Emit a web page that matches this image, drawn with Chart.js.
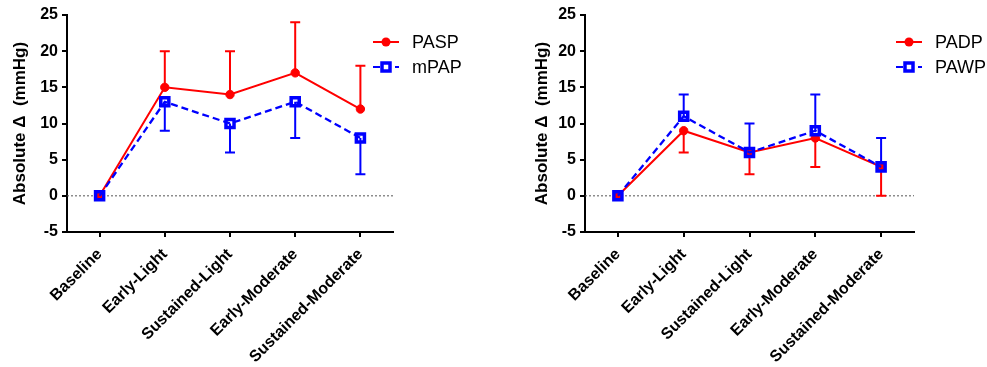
<!DOCTYPE html>
<html>
<head>
<meta charset="utf-8">
<script src="https://cdn.jsdelivr.net/npm/chart.js@4.4.0/dist/chart.umd.min.js"></script>
<style>
    body { margin: 0; background: #fff; }
    .wrap { display: flex; width: 987px; height: 367px; }
    .box { position: relative; height: 367px; }
</style>
</head>
<body>
<div class="wrap">
    <div class="box" style="width:493px"><canvas id="left-chart"></canvas></div>
    <div class="box" style="width:494px"><canvas id="right-chart"></canvas></div>
</div>
<script>
// Datos
const categories = ['Baseline', 'Early-Light', 'Sustained-Light', 'Early-Moderate', 'Sustained-Moderate'];
const yTicks = [-5, 0, 5, 10, 15, 20, 25];

// left panel
const pasp = [0, 15, 14, 17, 12];
const paspErr = [0, 5, 6, 7, 6];      // drawn upwards
const mpap = [0, 13, 10, 13, 8];
const mpapErr = [0, 4, 4, 5, 5];      // drawn downwards

// right panel
const padp = [0, 9, 6, 8, 4];
const padpErr = [0, 3, 3, 4, 4];      // downwards
const pawp = [0, 11, 6, 9, 4];
const pawpErr = [0, 3, 4, 5, 4];      // upwards

const RED = '#ff0000';
const BLUE = '#0000ff';

Chart.defaults.font.family = '"Liberation Sans", Arial, sans-serif';
Chart.defaults.color = '#000';

// Plugins
const zeroLine = {
    id: 'zeroLine',
    beforeDatasetsDraw(chart) {
        const { ctx, chartArea } = chart;
        const y0 = chart.scales.y.getPixelForValue(0);
        ctx.save();
        ctx.strokeStyle = '#555';
        ctx.lineWidth = 1;
        ctx.setLineDash([2, 2]);
        ctx.beginPath();
        ctx.moveTo(chartArea.left, y0);
        ctx.lineTo(chartArea.right, y0);
        ctx.stroke();
        ctx.restore();
    }
};

const errorBars = {
    id: 'errorBars',
    beforeDatasetsDraw(chart) {
        const ctx = chart.ctx;
        const yScale = chart.scales.y;
        chart.data.datasets.forEach((ds, i) => {
            const meta = chart.getDatasetMeta(i);
            ctx.save();
            ctx.strokeStyle = ds.borderColor;
            ctx.lineWidth = 2;
            meta.data.forEach((pt, j) => {
                const e = ds.errors[j];
                if (!e) return;
                const end = yScale.getPixelForValue(ds.data[j] + ds.errDir * e);
                ctx.beginPath();
                ctx.moveTo(pt.x, pt.y);
                ctx.lineTo(pt.x, end);
                ctx.moveTo(pt.x - 5, end);
                ctx.lineTo(pt.x + 5, end);
                ctx.stroke();
            });
            ctx.restore();
        });
    }
};

const lineLegend = {
    id: 'lineLegend',
    afterDraw(chart, args, opts) {
        const ctx = chart.ctx;
        // legend follows dataset index order (red first)
        chart.data.datasets.forEach((ds, i) => {
            const y = opts.y + i * 25;
            const x = opts.x;
            ctx.save();
            ctx.strokeStyle = ds.borderColor;
            ctx.lineWidth = 2;
            ctx.setLineDash(ds.borderDash || []);
            ctx.beginPath();
            ctx.moveTo(x, y);
            ctx.lineTo(x + 26, y);
            ctx.stroke();
            ctx.setLineDash([]);
            const cx = x + 13;
            if (ds.pointStyle === 'circle') {
                ctx.fillStyle = ds.borderColor;
                ctx.beginPath();
                ctx.arc(cx, y, 4.5, 0, Math.PI * 2);
                ctx.fill();
            } else {
                ctx.fillStyle = '#fff';
                ctx.fillRect(cx - 4, y - 4, 8, 8);
                ctx.lineWidth = 3.5;
                ctx.strokeRect(cx - 4, y - 4, 8, 8);
            }
            ctx.fillStyle = '#000';
            ctx.font = '18px "Liberation Sans", Arial, sans-serif';
            ctx.textBaseline = 'middle';
            ctx.fillText(ds.label, x + 39, y + 1);
            ctx.restore();
        });
    }
};

const makeDataset = (label, data, errors, errDir, solid) => ({
    label,
    data,
    errors,
    errDir,
    borderColor: solid ? RED : BLUE,
    backgroundColor: solid ? RED : 'rgba(0,0,0,0)',
    borderWidth: solid ? 2 : 2.3,
    borderDash: solid ? [] : [7, 4],
    pointStyle: solid ? 'circle' : 'rect',
    pointRadius: solid ? 4.2 : 5.7,
    pointBorderWidth: solid ? 1 : 3.5,
    pointBorderColor: solid ? RED : BLUE,
    pointBackgroundColor: solid ? RED : 'rgba(0,0,0,0)',
    tension: 0,
    order: solid ? 2 : 1
});

const makeChart = (canvasId, datasets, padLeft, yWidth, padRight, legendX) => {
    const ctx = document.getElementById(canvasId).getContext('2d');
    return new Chart(ctx, {
        type: 'line',
        data: { labels: categories, datasets },
        options: {
            responsive: true,
            maintainAspectRatio: false,
            animation: false,
            layout: { padding: { top: 15, left: padLeft, right: padRight, bottom: 0 } },
            plugins: {
                legend: { display: false },
                tooltip: { enabled: false },
                lineLegend: { x: legendX, y: 42 }
            },
            scales: {
                x: {
                    offset: true,
                    grid: { display: true, drawOnChartArea: false, drawTicks: true, tickLength: 5, color: '#000', lineWidth: 2 },
                    border: { display: true, color: '#000', width: 2 },
                    ticks: {
                        minRotation: 45, maxRotation: 45,
                        font: { size: 16, weight: 'bold' },
                        padding: 8
                    },
                    afterFit: (scale) => { scale.height = 135; }
                },
                y: {
                    min: -5, max: 25,
                    afterBuildTicks: (scale) => { scale.ticks = yTicks.map(v => ({ value: v })); },
                    grid: { display: true, drawOnChartArea: false, drawTicks: true, tickLength: 5, color: '#000', lineWidth: 2 },
                    border: { display: true, color: '#000', width: 2 },
                    ticks: { font: { size: 16, weight: 'bold' }, padding: 4 },
                    title: {
                        display: true,
                        text: 'Absolute \u0394  (mmHg)',
                        font: { size: 17, weight: 'bold' },
                        padding: { top: 10, bottom: 0 }
                    },
                    afterFit: (scale) => { scale.width = yWidth; }
                }
            }
        },
        plugins: [zeroLine, errorBars, lineLegend]
    });
};

makeChart('left-chart', [
    makeDataset('PASP', pasp, paspErr, 1, true),
    makeDataset('mPAP', mpap, mpapErr, -1, false)
], 0, 67, 100, 373);

makeChart('right-chart', [
    makeDataset('PADP', padp, padpErr, -1, true),
    makeDataset('PAWP', pawp, pawpErr, 1, false)
], 29, 63, 73, 403);
</script>
</body>
</html>
